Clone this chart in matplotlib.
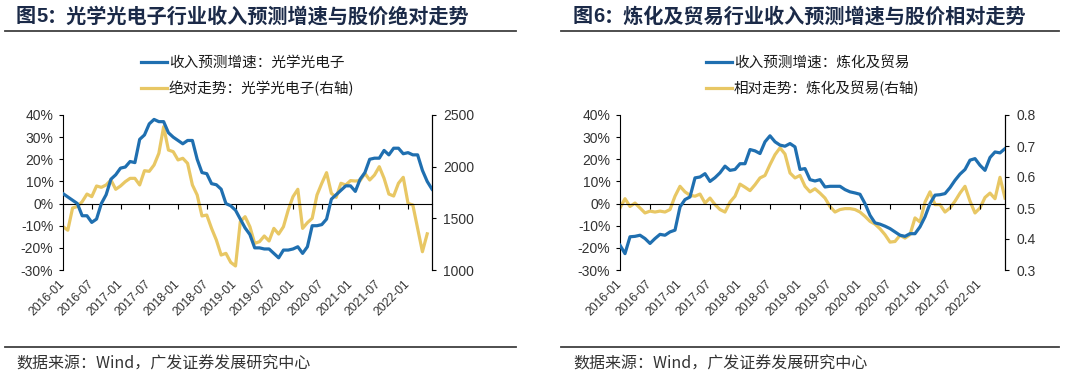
import matplotlib
matplotlib.use("Agg")
import matplotlib.pyplot as plt
from matplotlib.lines import Line2D
from matplotlib.ticker import FuncFormatter

# ---------------------------------------------------------------------------
# Data (monthly, starting 2016-01)
# ---------------------------------------------------------------------------

TICK_LABELS = ["2016-01", "2016-07", "2017-01", "2017-07", "2018-01", "2018-07",
               "2019-01", "2019-07", "2020-01", "2020-07", "2021-01", "2021-07",
               "2022-01"]

# Fig 5: 光学光电子 (2016-01 .. 2022-05)
opt_growth = [4.5, 3, 1.5, 0, -5.5, -5.5, -8.5, -7, 0, 4, 11, 13, 16, 16.5, 19, 18.5,
              29, 31, 36, 38, 37, 37, 32, 30, 28.5, 27, 28.5, 28.5, 20, 14, 13.5, 9,
              8.5, 6.5, 0, -1, -3, -7, -11, -14, -20, -20, -20.5, -20.5, -22.5, -24.5,
              -21, -21, -20.5, -19.5, -22.5, -19.5, -10, -10, -9.5, -7, 2, 4, 6, 8,
              8, 5.5, 11, 14, 20, 20.5, 20.5, 24, 22, 25, 25, 22.5, 23, 22, 22, 15,
              10, 6.5]
opt_price = [1420, 1385, 1600, 1615, 1661, 1735, 1710, 1813, 1800, 1823, 1871, 1781,
             1813, 1855, 1887, 1887, 1823, 1961, 1955, 2016, 2129, 2387, 2161, 2145,
             2065, 2081, 2032, 1823, 1726, 1523, 1532, 1403, 1290, 1145, 1161, 1074,
             1039, 1468, 1516, 1419, 1258, 1274, 1329, 1281, 1403, 1348, 1419, 1581,
             1710, 1781, 1403, 1458, 1500, 1726, 1839, 1942, 1742, 1703, 1839, 1823,
             1865, 1861, 1865, 1935, 1871, 1919, 2000, 1887, 1735, 1716, 1839, 1897,
             1645, 1629, 1403, 1177, 1350]

# Fig 6: 炼化及贸易 (2016-01 .. 2022-06)
ref_growth = [-18.8, -22.6, -15, -14.8, -14.3, -15.8, -18, -15.8, -13.9, -14.3, -12.8,
              -12, -1.5, 1.8, 3, 11.6, 12, 13.5, 10, 11.7, 13.9, 16.9, 15, 15.4, 18,
              18, 24.4, 23.8, 22.6, 27.9, 30.6, 27.9, 26.4, 25.9, 27.1, 25.6, 15.4,
              15.8, 10.8, 10.2, 10.8, 7.5, 7.8, 7.8, 7.8, 6.3, 5.3, 4.8, 4.2, 0, -5.3,
              -8.7, -9.3, -10.2, -11.3, -12.8, -14.3, -14.8, -13.6, -13.6, -10.5, -6,
              0, 3.8, 4, 4.5, 7.2, 10.5, 13.3, 15.4, 19.6, 20.3, 17.3, 15, 20.8, 23.3,
              22.9, 24.8]
ref_rel = [0.50, 0.53, 0.505, 0.516, 0.50, 0.484, 0.49, 0.487, 0.49, 0.487, 0.495,
           0.538, 0.57, 0.552, 0.541, 0.538, 0.545, 0.516, 0.532, 0.511, 0.495, 0.487,
           0.519, 0.538, 0.577, 0.567, 0.556, 0.575, 0.597, 0.605, 0.64, 0.672, 0.694,
           0.674, 0.613, 0.597, 0.605, 0.57, 0.552, 0.562, 0.548, 0.532, 0.505, 0.487,
           0.495, 0.498, 0.498, 0.495, 0.487, 0.473, 0.457, 0.448, 0.433, 0.414, 0.39,
           0.392, 0.412, 0.403, 0.414, 0.468, 0.455, 0.519, 0.552, 0.511, 0.511, 0.487,
           0.50, 0.522, 0.548, 0.57, 0.522, 0.484, 0.50, 0.534, 0.548, 0.53, 0.599,
           0.532]

# ---------------------------------------------------------------------------
# Style
# ---------------------------------------------------------------------------

BLUE = "#1F6FB0"
GOLD = "#E8C764"
NAVY = "#1B2A48"
GREY = "#333333"
CJK = ["Noto Sans CJK SC", "DejaVu Sans"]
LATIN = ["Liberation Sans", "DejaVu Sans"]

plt.rcParams["font.family"] = LATIN
plt.rcParams["axes.linewidth"] = 0.8

W, H = 1080, 381
fig = plt.figure(figsize=(W / 100, H / 100), dpi=100)


def tick_pos(label):
    y, m = label.split("-")
    return (int(y) - 2016) * 12 + int(m) - 1


def fig_line(x0, x1, y):
    fig.add_artist(Line2D([x0 / W, x1 / W], [1 - y / H, 1 - y / H],
                          color="#404040", lw=1.3, transform=fig.transFigure))


def panel(rect, growth, price, title_no, title, lab1, lab2,
          rlim, rticks, rfmt, title_x, rule_x):
    left, right, top, bottom = rect
    ax = fig.add_axes([left / W, 1 - bottom / H, (right - left) / W, (bottom - top) / H])
    ax2 = ax.twinx()

    x1 = list(range(len(growth)))
    x2 = list(range(len(price)))
    l1, = ax.plot(x1, growth, color=BLUE, lw=2.3, label=lab1, zorder=3)
    l2, = ax2.plot(x2, price, color=GOLD, lw=2.3, label=lab2, zorder=2)
    ax.set_zorder(ax2.get_zorder() + 1)
    ax.patch.set_visible(False)

    ax.set_xlim(0, len(growth) - 1)
    ax.set_ylim(-30, 40)
    ax.set_yticks(range(-30, 41, 10))
    ax.yaxis.set_major_formatter(FuncFormatter(lambda v, p: f"{v:.0f}%"))
    ax2.set_ylim(*rlim)
    ax2.set_yticks(rticks)
    ax2.yaxis.set_major_formatter(FuncFormatter(rfmt))

    # x axis drawn at zero, labels at the bottom
    ax.spines["top"].set_position(("data", 0))
    ax.spines["top"].set_color("black")
    ax.spines["bottom"].set_visible(False)
    ax.tick_params(axis="x", top=True, bottom=False, labeltop=False, labelbottom=True,
                   direction="in", length=3.5, width=0.8, pad=9,
                   labelrotation=45, labelsize=8.8, labelcolor=GREY)
    ax.set_xticks([tick_pos(t) for t in TICK_LABELS])
    ax.set_xticklabels(TICK_LABELS)
    for t in ax.get_xticklabels():
        t.set_ha("right")
        t.set_va("center")
        t.set_rotation_mode("anchor")
    ax.tick_params(axis="y", direction="out", length=3, width=0.8, pad=4,
                   labelsize=10, labelcolor=GREY)
    ax2.tick_params(axis="y", direction="out", length=3, width=0.8, pad=5,
                    labelsize=10, labelcolor=GREY)
    ax2.spines["bottom"].set_visible(False)
    ax2.spines["top"].set_visible(False)
    ax2.spines["left"].set_visible(False)

    leg = ax.legend([l1, l2], [lab1, lab2], loc="center", bbox_to_anchor=(0.5, 1.25),
                    frameon=False, handlelength=1.8, handletextpad=0.1,
                    labelspacing=0.75,
                    prop={"family": CJK, "size": 10.5, "weight": "medium"})
    for t in leg.get_texts():
        t.set_color("#1a1a1a")

    # title and rules
    fig.text(title_x / W, 1 - 16 / H, "图", family=CJK, fontsize=14.5,
             fontweight="bold", color=NAVY, va="center", ha="left")
    fig.text((title_x + 20) / W, 1 - 16 / H, title_no, family=LATIN, fontsize=14.5,
             fontweight="bold", color=NAVY, va="center", ha="left")
    fig.text((title_x + 31) / W, 1 - 16 / H, "：" + title, family=CJK, fontsize=14.5,
             fontweight="bold", color=NAVY, va="center", ha="left")
    fig_line(rule_x[0], rule_x[1], 31)
    fig_line(rule_x[0], rule_x[1], 347)
    fig.text(title_x / W, 1 - 364 / H, "数据来源：Wind，广发证券发展研究中心",
             family=CJK, fontsize=11.5, color="#333333", va="center", ha="left")
    return ax, ax2


panel((63, 432, 115, 270), opt_growth, opt_price, "5",
      "光学光电子行业收入预测增速与股价绝对走势",
      "收入预测增速：光学光电子", "绝对走势：光学光电子(右轴)",
      (1000, 2500), [1000, 1500, 2000, 2500], lambda v, p: f"{v:.0f}",
      16, (5, 516))

panel((620, 1005, 115, 270), ref_growth, ref_rel, "6",
      "炼化及贸易行业收入预测增速与股价相对走势",
      "收入预测增速：炼化及贸易", "相对走势：炼化及贸易(右轴)",
      (0.3, 0.8), [0.3, 0.4, 0.5, 0.6, 0.7, 0.8], lambda v, p: f"{v:.1f}",
      573, (561, 1059))

fig.savefig("out.png", dpi=100, facecolor="white")
